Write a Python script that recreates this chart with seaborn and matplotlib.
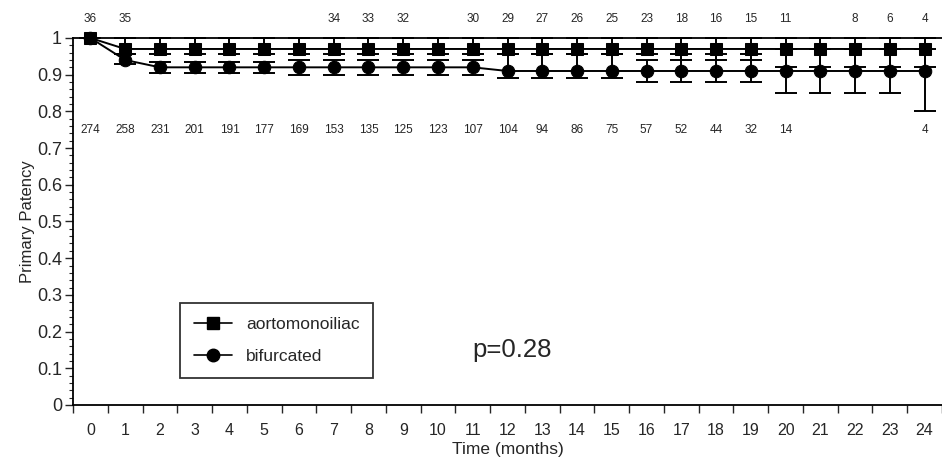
import numpy as np
import pandas as pd
import matplotlib
matplotlib.use("Agg")
import matplotlib.pyplot as plt
from matplotlib.lines import Line2D
import seaborn as sns

# survival estimates
months = list(range(25))
aorto = [1.0] + [0.97] * 24
aorto_lo = [1.0] + [0.955] * 16 + [0.94] * 3 + [0.92] * 5
aorto_hi = [1.0] * 25
bifur = [1.0, 0.94] + [0.92] * 10 + [0.91] * 13
bifur_lo = [1.0, 0.93, 0.905, 0.905, 0.905, 0.905, 0.90, 0.90, 0.90, 0.90, 0.90, 0.90,
            0.89, 0.89, 0.89, 0.89, 0.88, 0.88, 0.88, 0.88, 0.85, 0.85, 0.85, 0.85, 0.80]
bifur_hi = [1.0, 0.955, 0.935, 0.935, 0.935, 0.935, 0.94, 0.94, 0.94, 0.94, 0.94, 0.94,
            0.955, 0.955, 0.955, 0.955, 0.94, 0.955, 0.955, 0.955, 0.97, 0.97, 0.97, 0.97, 0.97]

# numbers at risk
top_months = [0, 1, 7, 8, 9, 11, 12, 13, 14, 15, 16, 17, 18, 19, 20, 22, 23, 24]
top_counts = [36, 35, 34, 33, 32, 30, 29, 27, 26, 25, 23, 18, 16, 15, 11, 8, 6, 4]
bot_months = list(range(21)) + [24]
bot_counts = [274, 258, 231, 201, 191, 177, 169, 153, 135, 125, 123, 107, 104, 94, 86,
              75, 57, 52, 44, 32, 14, 4]

df = pd.DataFrame({
    "month": months * 2,
    "patency": aorto + bifur,
    "group": ["aortomonoiliac"] * 25 + ["bifurcated"] * 25,
})

sns.set_style("ticks")
plt.rcParams["font.family"] = ["Liberation Sans", "DejaVu Sans"]

fig = plt.figure(figsize=(9.42, 4.63), dpi=100)
ax = fig.add_axes([0.0775, 0.1253, 0.9225, 0.7927])

sns.lineplot(data=df, x="month", y="patency", hue="group", style="group",
             markers={"aortomonoiliac": "s", "bifurcated": "o"}, dashes=False,
             palette=["black", "black"], markersize=9, linewidth=1.4,
             markeredgecolor="black", legend=False, ax=ax, clip_on=False, zorder=3)

a = np.array(aorto)
b = np.array(bifur)
ax.errorbar(months, a, yerr=[a - np.array(aorto_lo), np.array(aorto_hi) - a],
            fmt="none", ecolor="black", elinewidth=1.4, capsize=8, capthick=1.4,
            clip_on=False, zorder=2)
ax.errorbar(months, b, yerr=[b - np.array(bifur_lo), np.array(bifur_hi) - b],
            fmt="none", ecolor="black", elinewidth=1.4, capsize=8, capthick=1.4,
            clip_on=False, zorder=2)

for m, c in zip(top_months, top_counts):
    ax.text(m, 1.052, str(c), ha="center", va="center", fontsize=8.5, clip_on=False)
for m, c in zip(bot_months, bot_counts):
    ax.text(m, 0.75, str(c), ha="center", va="center", fontsize=8.5)

ax.text(11.0, 0.15, "p=0.28", ha="left", va="center", fontsize=18.5)

ax.set_xlim(-0.5, 24.26)
ax.set_ylim(0, 1.0)
ax.set_xticks(months)
ax.set_xticks(np.arange(-0.5, 24.6, 1), minor=True)
ax.tick_params(axis="x", which="major", length=0, labelsize=11.5, pad=13)
ax.tick_params(axis="x", which="minor", length=6, width=1, direction="out")
ax.set_yticks(np.arange(0, 1.01, 0.1))
ax.set_yticklabels(["0"] + [f"{v:.1f}" for v in np.arange(0.1, 0.95, 0.1)] + ["1"])
ax.set_yticks(np.arange(0, 1.001, 0.02), minor=True)
ax.tick_params(axis="y", which="major", length=6, width=1, labelsize=13, pad=2)
ax.tick_params(axis="y", which="minor", length=3, width=0.8)

ax.spines["right"].set_visible(False)
for s in ["left", "bottom", "top"]:
    ax.spines[s].set_linewidth(1.3)
    ax.spines[s].set_color("black")

ax.set_xlabel("Time (months)", fontsize=12.5, labelpad=3)
ax.set_ylabel("Primary Patency", fontsize=12, labelpad=1)

handles = [Line2D([], [], color="black", marker="s", markersize=8, lw=1.2),
           Line2D([], [], color="black", marker="o", markersize=9, lw=1.2)]
leg = ax.legend(handles, ["aortomonoiliac", "bifurcated"], loc="upper left",
                bbox_to_anchor=(0.123, 0.278), fontsize=12.5, frameon=True,
                fancybox=False, edgecolor="black", handlelength=2.2,
                labelspacing=0.95, borderpad=0.8, handletextpad=0.8, borderaxespad=0)
leg.get_frame().set_linewidth(1.3)

fig.savefig("out.png", dpi=100)
